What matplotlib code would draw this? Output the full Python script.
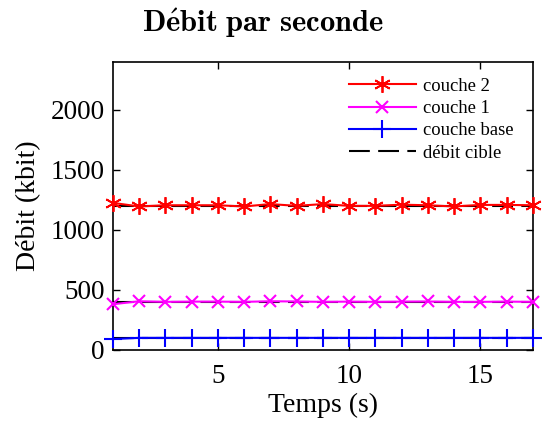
import matplotlib

matplotlib.use("Agg")
import matplotlib.pyplot as plt

# Time axis (s)
temps = list(range(1, 18))

# Measured bitrate per layer (kbit)
couche_2 = [1225, 1195, 1205, 1205, 1205, 1195, 1215, 1200, 1215,
            1200, 1200, 1210, 1205, 1195, 1208, 1208, 1205]
couche_1 = [380, 405, 400, 402, 402, 400, 405, 403, 400,
            402, 400, 402, 403, 400, 400, 402, 400]
couche_base = [90, 100, 100, 100, 100, 100, 100, 100, 100,
               100, 100, 100, 100, 100, 100, 100, 100]

# Target bitrates (kbit)
cible = [1200, 400, 100]

plt.rcParams["mathtext.fontset"] = "cm"
serif = ["Liberation Serif", "DejaVu Serif"]
dashes = (0, (10, 4))

figure, axis = plt.subplots(figsize=(5.45, 4.21), dpi=100)
figure.subplots_adjust(left=0.207, right=0.978, top=0.853, bottom=0.169)

for value in cible:
    axis.plot([temps[0], temps[-1]], [value, value], color="black",
              linestyle=dashes, linewidth=1.5, zorder=2)

axis.plot(temps, couche_2, color="red", marker=(6, 2, 0), markersize=12,
          markeredgewidth=1.3, linewidth=1.5, label="couche 2", zorder=3,
          clip_on=False)
axis.plot(temps, couche_1, color="magenta", marker="x", markersize=9,
          markeredgewidth=1.5, linewidth=1.5, label="couche 1", zorder=3,
          clip_on=False)
axis.plot(temps, couche_base, color="blue", marker="+", markersize=13,
          markeredgewidth=1.5, linewidth=1.5, label="couche base", zorder=3,
          clip_on=False)
axis.plot([], [], color="black", linestyle=dashes, linewidth=1.5,
          label="débit cible")

axis.set_xlim(1, 17)
axis.set_ylim(0, 2400)
axis.set_xticks([5, 10, 15])
axis.set_yticks([0, 500, 1000, 1500, 2000])
axis.tick_params(direction="in", top=True, right=True, length=5,
                 labelsize=19.5, width=1)
axis.tick_params(axis="x", pad=10)
axis.tick_params(axis="y", pad=6)
for label in axis.get_xticklabels() + axis.get_yticklabels():
    label.set_family(serif)
for spine in axis.spines.values():
    spine.set_linewidth(1.2)

axis.set_xlabel("Temps (s)", family=serif, fontsize=20, labelpad=3)
axis.set_ylabel("Débit (kbit)", family=serif, fontsize=20, labelpad=7)

axis.legend(loc="upper right", bbox_to_anchor=(0.985, 0.99), frameon=False,
            prop={"family": serif, "size": 13.4},
            handlelength=3.6, handletextpad=0.4, labelspacing=0.28,
            borderaxespad=0.3)

figure.suptitle(r"$\mathbf{D\acute{e}bit\ par\ seconde}$", x=0.483, y=0.985,
                fontsize=22)

figure.savefig("out.png", dpi=100)
plt.close(figure)
